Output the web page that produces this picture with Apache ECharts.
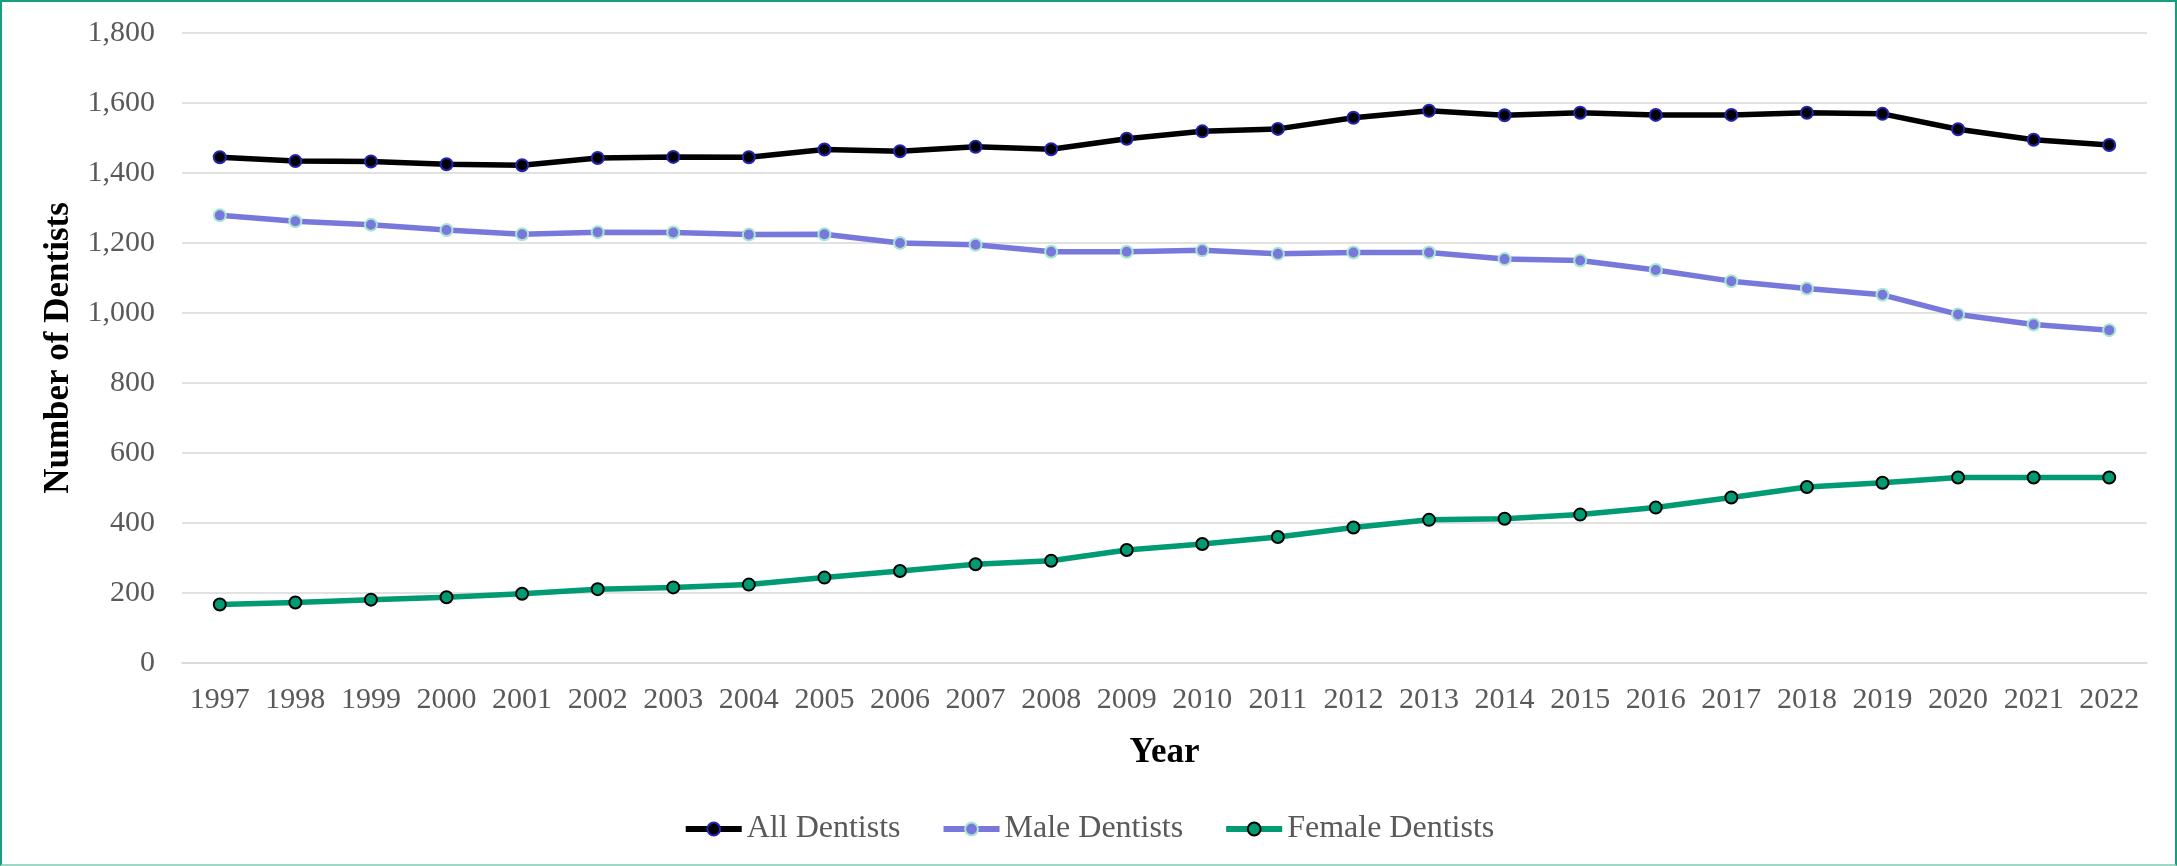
<!DOCTYPE html>
<html>
<head>
<meta charset="utf-8">
<script src="https://cdn.jsdelivr.net/npm/echarts@6/dist/echarts.min.js"></script>
<style>
  html, body { margin: 0; padding: 0; background: #ffffff; }
  #chart { position: absolute; left: 0; top: 0; width: 2177px; height: 866px; }
  #frame { position: absolute; left: 0; top: 0; width: 2177px; height: 866px; box-sizing: border-box;
           border: 2px solid #13a07c; border-bottom-color: #9ed7c6; pointer-events: none; }
</style>
</head>
<body>
<div id="chart"></div>
<div id="frame"></div>
<script>
const years = ['1997','1998','1999','2000','2001','2002','2003','2004','2005','2006','2007','2008','2009',
               '2010','2011','2012','2013','2014','2015','2016','2017','2018','2019','2020','2021','2022'];
const allDentists = [1445,1434,1433,1425,1422,1443,1446,1445,1467,1462,1475,1468,1498,
                     1519,1526,1558,1578,1565,1572,1566,1566,1572,1569,1525,1495,1480];
const maleDentists = [1279,1262,1252,1237,1225,1231,1230,1224,1225,1200,1195,1175,1175,
                      1179,1169,1173,1173,1154,1150,1123,1091,1070,1052,996,967,951];
const femaleDentists = [167,173,181,188,198,211,216,224,244,263,282,292,323,
                        340,360,387,409,412,424,444,473,503,515,530,530,530];
const yTicks = { min: 0, max: 1800, interval: 200 };

const FONT = '"Liberation Serif", "Times New Roman", serif';
const chart = echarts.init(document.getElementById('chart'));

function lineSeries(name, data, color, border) {
  return {
    name: name, type: 'line', data: data,
    symbol: 'circle', symbolSize: 12,
    lineStyle: { color: color, width: 5.5 },
    itemStyle: { color: color, borderColor: border, borderWidth: 2 },
    emphasis: { disabled: true },
    z: 3
  };
}

chart.setOption({
  animation: false,
  backgroundColor: '#ffffff',
  grid: { left: 182, right: 30, top: 33, bottom: 203 },
  legend: {
    bottom: 16, left: 'center',
    itemWidth: 56, itemHeight: 16, itemGap: 40,
    lineStyle: { width: 6 },
    textStyle: { fontFamily: FONT, fontSize: 32, color: '#595959' },
    data: ['All Dentists', 'Male Dentists', 'Female Dentists']
  },
  xAxis: {
    type: 'category', data: years, boundaryGap: true,
    name: 'Year', nameLocation: 'middle', nameGap: 72,
    nameTextStyle: { fontFamily: FONT, fontSize: 35, fontWeight: 'bold', color: '#000000' },
    axisLine: { show: true, lineStyle: { color: '#d9d9d9', width: 1.5 } },
    axisTick: { show: false },
    axisLabel: { fontFamily: FONT, fontSize: 30, color: '#595959', margin: 22, interval: 0 }
  },
  yAxis: {
    type: 'value', min: yTicks.min, max: yTicks.max, interval: yTicks.interval,
    name: 'Number of Dentists', nameLocation: 'middle', nameGap: 106, nameRotate: 90,
    nameTextStyle: { fontFamily: FONT, fontSize: 35, fontWeight: 'bold', color: '#000000' },
    axisLine: { show: false }, axisTick: { show: false },
    axisLabel: { fontFamily: FONT, fontSize: 30, color: '#595959', margin: 27,
                 formatter: v => v.toLocaleString('en-US') },
    splitLine: { lineStyle: { color: '#d9d9d9', width: 1.5 } }
  },
  series: [
    lineSeries('All Dentists', allDentists, '#000000', '#2424b4'),
    lineSeries('Male Dentists', maleDentists, '#7878dc', '#a8e6cf'),
    lineSeries('Female Dentists', femaleDentists, '#009a73', '#000000')
  ]
});
</script>
</body>
</html>
